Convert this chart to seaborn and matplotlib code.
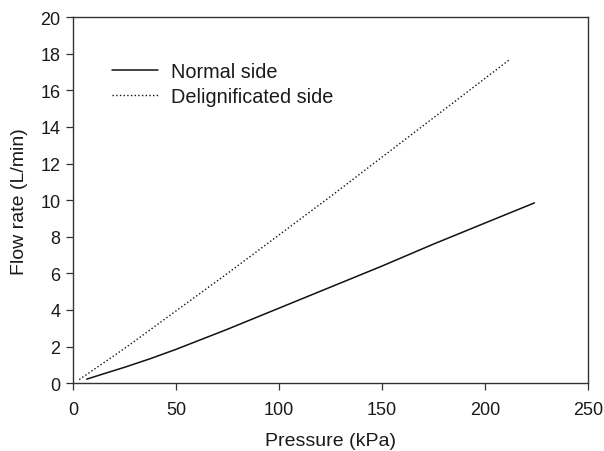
import matplotlib
matplotlib.use("Agg")
import matplotlib.pyplot as plt
import seaborn as sns
import pandas as pd

normal_p = [6.6, 15, 25, 37.5, 50, 75, 100, 125, 150, 175, 200, 224]
normal_q = [0.22, 0.52, 0.87, 1.34, 1.85, 2.95, 4.1, 5.25, 6.4, 7.6, 8.75, 9.85]
delig_p = [3, 25, 50, 75, 100, 125, 150, 175, 200, 211.6]
delig_q = [0.2, 1.9, 3.95, 6.0, 8.1, 10.2, 12.35, 14.5, 16.65, 17.65]
x_ticks = [0, 50, 100, 150, 200, 250]
y_ticks = [0, 2, 4, 6, 8, 10, 12, 14, 16, 18, 20]

sns.set_theme(style="ticks")
plt.rcParams['font.family'] = ['Liberation Sans', 'DejaVu Sans']

df_n = pd.DataFrame({"Pressure": normal_p, "Flow": normal_q})
df_d = pd.DataFrame({"Pressure": delig_p, "Flow": delig_q})

fig = plt.figure(figsize=(6.04, 4.52), dpi=100)
ax = fig.add_axes([0.121, 0.150, 0.8525, 0.810])

sns.lineplot(data=df_n, x="Pressure", y="Flow", ax=ax, color="#111111",
             linewidth=1.1, label="Normal side")
sns.lineplot(data=df_d, x="Pressure", y="Flow", ax=ax, color="#111111",
             linewidth=1.0, linestyle=":", label="Delignificated side")

ax.set_xlim(0, 250)
ax.set_ylim(0, 20)
ax.set_xticks(x_ticks)
ax.set_yticks(y_ticks)
ax.tick_params(axis="both", labelsize=13, direction="out", length=5,
               width=0.9, color="#333333", top=False, right=False,
               labelcolor="#1a1a1a")
ax.tick_params(axis="x", pad=8)
ax.tick_params(axis="y", pad=4)
for s in ax.spines.values():
    s.set_visible(True)
    s.set_color("#333333")
    s.set_linewidth(1.0)
ax.set_xlabel("Pressure (kPa)", fontsize=14, labelpad=10, color="#1a1a1a")
ax.set_ylabel("Flow rate (L/min)", fontsize=14, labelpad=9, color="#1a1a1a")

leg = ax.legend(loc="upper left", bbox_to_anchor=(0.041, 0.925), frameon=False,
                fontsize=14.3, handlelength=2.3, handletextpad=0.65,
                labelspacing=0.3)
for t in leg.get_texts():
    t.set_color("#1a1a1a")

fig.savefig("out.png", dpi=100)
